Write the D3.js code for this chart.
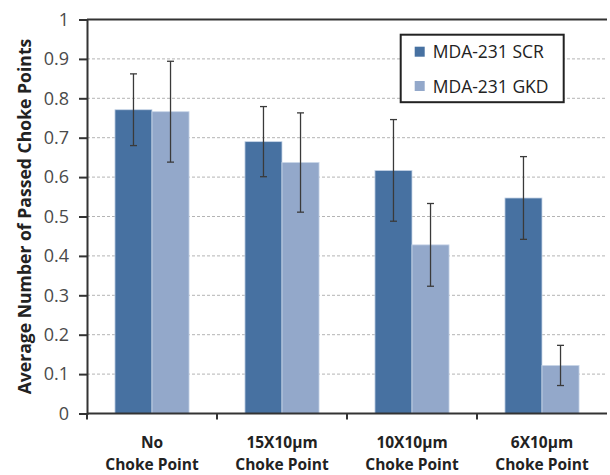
<!DOCTYPE html>
<html>
<head>
<meta charset="utf-8">
<script src="https://cdn.jsdelivr.net/npm/d3@7"></script>
<style>
  body { margin: 0; background: #fff; }
  text { font-family: "Open Sans", sans-serif; }
</style>
</head>
<body>
<script>

var categories = ["No|Choke Point", "15X10µm|Choke Point", "10X10µm|Choke Point", "6X10µm|Choke Point"];
var seriesNames = ["MDA-231 SCR", "MDA-231 GKD"];
var scrValues = [0.771, 0.690, 0.617, 0.547];
var gkdValues = [0.766, 0.637, 0.428, 0.122];
var scrErrors = [0.091, 0.089, 0.129, 0.105];
var gkdErrors = [0.128, 0.126, 0.105, 0.051];
var yTicks = [0, 0.1, 0.2, 0.3, 0.4, 0.5, 0.6, 0.7, 0.8, 0.9, 1];

var colors = ["#4771a1", "#93a8ca"];

window.onload = function() {

  const margin = {top: 19.5, right: 3, bottom: 61.5, left: 87};
  const width = 610 - margin.left - margin.right;
  const height = 475 - margin.top - margin.bottom;

  var svg = d3.select("body").append("svg")
      .attr("width", 610)
      .attr("height", 475)
      .append("g")
      .attr("transform", "translate(" + margin.left + "," + margin.top + ")");

  var xScale = d3.scaleBand()
      .domain(categories)
      .range([0, 520])
      .padding(0);

  var xInner = d3.scaleBand()
      .domain(seriesNames)
      .range([xScale.bandwidth() * 0.215, xScale.bandwidth() * 0.785]);

  var yScale = d3.scaleLinear()
      .domain([0, 1])
      .range([height, 0]);

  // dashed grid lines
  svg.selectAll(".grid")
      .data(yTicks.filter(function(d) { return d > 0 && d < 1; }))
      .enter()
      .append("line")
      .attr("x1", 0)
      .attr("x2", width)
      .attr("y1", function(d) { return yScale(d); })
      .attr("y2", function(d) { return yScale(d); })
      .attr("stroke", "#b4b4b4")
      .attr("stroke-width", 1)
      .attr("stroke-dasharray", "3,2");

  // top border line
  svg.append("line")
      .attr("x1", 0)
      .attr("x2", width)
      .attr("y1", yScale(1))
      .attr("y2", yScale(1))
      .attr("stroke", "#333")
      .attr("stroke-width", 2);

  var data = [];
  categories.forEach(function(c, i) {
      data.push({cat: c, name: seriesNames[0], value: scrValues[i], err: scrErrors[i], color: colors[0]});
      data.push({cat: c, name: seriesNames[1], value: gkdValues[i], err: gkdErrors[i], color: colors[1]});
  });

  svg.selectAll(".bar")
      .data(data)
      .enter()
      .append("rect")
      .attr("x", function(d) { return xScale(d.cat) + xInner(d.name); })
      .attr("y", function(d) { return yScale(d.value); })
      .attr("width", xInner.bandwidth())
      .attr("height", function(d) { return height - yScale(d.value); })
      .attr("fill", function(d) { return d.color; })
      .attr("stroke", "#c9d6e8")
      .attr("stroke-width", 0.8);

  // error bars
  var errs = svg.selectAll(".err")
      .data(data)
      .enter()
      .append("g")
      .attr("transform", function(d) {
          return "translate(" + (xScale(d.cat) + xInner(d.name) + xInner.bandwidth() / 2) + ",0)";
      })
      .attr("stroke", "#3a3a3a")
      .attr("stroke-width", 1.3);

  errs.append("line")
      .attr("y1", function(d) { return yScale(d.value + d.err); })
      .attr("y2", function(d) { return yScale(d.value - d.err); });
  errs.append("line")
      .attr("x1", -3.5).attr("x2", 3.5)
      .attr("y1", function(d) { return yScale(d.value + d.err); })
      .attr("y2", function(d) { return yScale(d.value + d.err); });
  errs.append("line")
      .attr("x1", -3.5).attr("x2", 3.5)
      .attr("y1", function(d) { return yScale(d.value - d.err); })
      .attr("y2", function(d) { return yScale(d.value - d.err); });

  var yAxis = svg.append("g")
      .call(d3.axisLeft(yScale).tickValues(yTicks).tickSize(8).tickPadding(10)
          .tickFormat(function(d) { return d === 0 || d === 1 ? d : d3.format(".1f")(d); }));
  yAxis.select(".domain").attr("stroke", "#333").attr("stroke-width", 2);
  yAxis.selectAll(".tick line").attr("stroke", "#333").attr("stroke-width", 2);
  yAxis.selectAll("text")
      .attr("font-size", "18px")
      .attr("fill", "#4a4a4a")
      .style("font-family", "Open Sans");

  var xAxis = svg.append("g")
      .attr("transform", "translate(0," + height + ")")
      .call(d3.axisBottom(xScale).tickSize(0).tickFormat(""));
  xAxis.select(".domain").remove();
  xAxis.append("line")
      .attr("x1", 0).attr("x2", width)
      .attr("stroke", "#333").attr("stroke-width", 2);

  // tick marks at category boundaries
  xAxis.selectAll(".bound")
      .data(categories)
      .enter()
      .append("line")
      .attr("x1", function(d) { return xScale(d); })
      .attr("x2", function(d) { return xScale(d); })
      .attr("y1", 0).attr("y2", 6)
      .attr("stroke", "#333").attr("stroke-width", 2);

  var labels = xAxis.selectAll(".xlab")
      .data(categories)
      .enter()
      .append("text")
      .attr("text-anchor", "middle")
      .attr("font-size", "15.5px")
      .attr("font-weight", "bold")
      .attr("fill", "#222");
  labels.append("tspan")
      .attr("x", function(d) { return xScale(d) + xScale.bandwidth() / 2; })
      .attr("y", 34)
      .text(function(d) { return d.split("|")[0]; });
  labels.append("tspan")
      .attr("x", function(d) { return xScale(d) + xScale.bandwidth() / 2; })
      .attr("y", 56.5)
      .text(function(d) { return d.split("|")[1]; });

  svg.append("text")
      .attr("transform", "translate(-56," + (height / 2) + ") rotate(-90)")
      .attr("text-anchor", "middle")
      .attr("font-size", "17.6px")
      .attr("font-weight", "bold")
      .attr("fill", "#222")
      .text("Average Number of Passed Choke Points");

  // legend
  var legend = svg.append("g")
      .attr("transform", "translate(" + (400.7 - margin.left) + "," + (34.7 - margin.top) + ")");
  legend.append("rect")
      .attr("width", 163)
      .attr("height", 67.5)
      .attr("fill", "#fff")
      .attr("stroke", "#222")
      .attr("stroke-width", 2);
  var items = legend.selectAll(".item")
      .data(seriesNames)
      .enter()
      .append("g")
      .attr("transform", function(d, i) { return "translate(14," + (12 + i * 34.3) + ")"; });
  items.append("rect")
      .attr("width", 10)
      .attr("height", 10)
      .attr("fill", function(d, i) { return colors[i]; });
  items.append("text")
      .attr("x", 18)
      .attr("y", 11.5)
      .attr("font-size", "17.5px")
      .attr("fill", "#222")
      .text(function(d) { return d; });
};
</script>
</body>
</html>
